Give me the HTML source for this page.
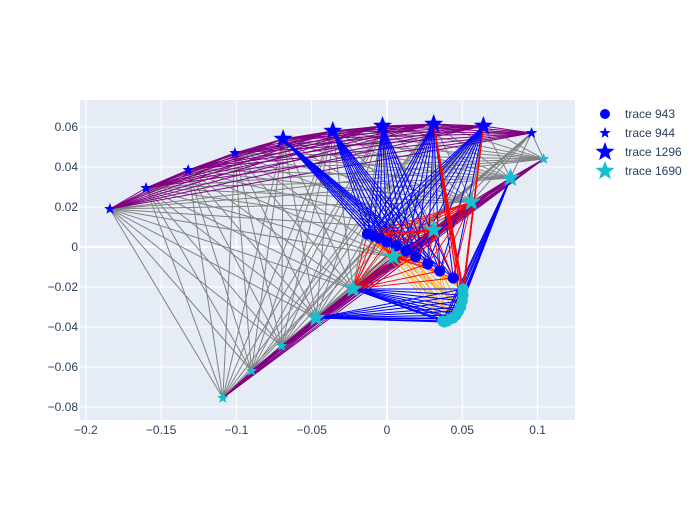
<!DOCTYPE html>
<html><head><meta charset="utf-8"><style>
body{margin:0;background:#fff;font-family:"Liberation Sans",sans-serif;}
svg text{font-family:"Liberation Sans",sans-serif;font-size:12px;fill:#2a3f5f;}
</style></head><body>
<svg id="chart" width="700" height="500" xmlns="http://www.w3.org/2000/svg">
<rect x="0" y="0" width="700" height="500" fill="#fff"/>
<rect x="80" y="100" width="495" height="320" fill="#e5ecf6"/>
<g id="grid"></g><g id="edges"></g><g id="marks"></g><g id="ticks"></g>
<g id="legend"></g>
</svg>
<script>
const xTicks=[-0.2,-0.15,-0.1,-0.05,0,0.05,0.1];
const xTickLabels=["−0.2","−0.15","−0.1","−0.05","0","0.05","0.1"];
const yTicks=[0.06,0.04,0.02,0,-0.02,-0.04,-0.06,-0.08];
const yTickLabels=["0.06","0.04","0.02","0","−0.02","−0.04","−0.06","−0.08"];
const smallBlueX=[-0.184,-0.16,-0.132,-0.101,0.096];
const smallBlueY=[0.019,0.0295,0.0385,0.047,0.057];
const bigBlueX=[-0.069,-0.036,-0.003,0.031,0.064];
const bigBlueY=[0.054,0.058,0.0605,0.0615,0.0605];
const bigCyanX=[0.082,0.056,0.031,0.004,-0.0225,-0.047];
const bigCyanY=[0.0345,0.0225,0.0085,-0.005,-0.021,-0.0355];
const smallCyanX=[0.104,-0.07,-0.09,-0.109];
const smallCyanY=[0.044,-0.0495,-0.062,-0.0755];
const blobX=[0.0505,0.0505,0.05,0.049,0.0475,0.046,0.044,0.042,0.04,0.038,0.037];
const blobY=[-0.021,-0.024,-0.027,-0.03,-0.032,-0.034,-0.0355,-0.036,-0.037,-0.0375,-0.037];
const circX=[-0.013,-0.009,-0.005,0.0,0.006,0.0125,0.019,0.027,0.035,0.044];
const circY=[0.0065,0.0055,0.0045,0.0025,0.0005,-0.002,-0.005,-0.0085,-0.012,-0.0155];

const X0=387,XS=1506,Y0=247,YS=2000;
const sx=v=>X0+v*XS, sy=v=>Y0-v*YS;
const NS="http://www.w3.org/2000/svg";
function mk(tag,attrs,parent){const e=document.createElementNS(NS,tag);for(const k in attrs)e.setAttribute(k,attrs[k]);parent.appendChild(e);return e;}
const grid=document.getElementById('grid'),ticks=document.getElementById('ticks'),edges=document.getElementById('edges'),marks=document.getElementById('marks'),legend=document.getElementById('legend');
xTicks.forEach((t,i)=>{const g=mk('line',{x1:sx(t),x2:sx(t),y1:100,y2:420,stroke:'#fff','stroke-width':t===0?2:1},grid);

const l=mk('text',{x:sx(t),y:434,'text-anchor':'middle'},ticks);l.textContent=xTickLabels[i];
});
yTicks.forEach((t,i)=>{const g=mk('line',{x1:80,x2:575,y1:sy(t),y2:sy(t),stroke:'#fff','stroke-width':t===0?2:1},grid);

const l=mk('text',{x:78,y:sy(t)+4,'text-anchor':'end'},ticks);l.textContent=yTickLabels[i];
});
const pts=(X,Y)=>X.map((x,i)=>[x,Y[i]]);
const topStars=pts(smallBlueX.slice(0,4),smallBlueY.slice(0,4)).concat(pts(bigBlueX,bigBlueY),pts(smallBlueX.slice(4),smallBlueY.slice(4)));
const cyanStars=pts(smallCyanX.slice(0,1),smallCyanY.slice(0,1)).concat(pts(bigCyanX,bigCyanY),pts(smallCyanX.slice(1),smallCyanY.slice(1)));
const circles=pts(circX,circY),blob=pts(blobX,blobY),bigBlue=pts(bigBlueX,bigBlueY),bigCyan=pts(bigCyanX,bigCyanY);
function seg(a,b,col,w,name){const l=mk('line',{x1:sx(a[0]),y1:sy(a[1]),x2:sx(b[0]),y2:sy(b[1]),stroke:col,'stroke-width':w},edges);
}
function bip(A,B,col,w,name){A.forEach(a=>B.forEach(b=>seg(a,b,col,w,name)));}
function within(A,col,w,name){for(let i=0;i<A.length;i++)for(let j=i+1;j<A.length;j++)seg(A[i],A[j],col,w,name);}
bip(topStars,cyanStars,'#808080',1,'gray-edge');
within(topStars,'#800080',1,'purple-edge');
within(cyanStars,'#800080',1,'purple-edge');
bip(circles.filter((c,i)=>i%2===0),blob.filter((b,i)=>i%3===0),'#ffa500',0.8,'orange-edge');
bip(bigBlue,circles,'#0000ff',1,'blue-edge');
bip([bigCyan[0],bigCyan[4],bigCyan[5]],blob,'#0000ff',1,'blue-edge');
bip(bigCyan.slice(1,5),circles,'#ff0000',0.9,'red-edge');
bip(bigBlue.slice(3,5),blob.slice(0,4),'#ff0000',1.2,'red-edge');
function star(cx,cy,r){const p=[];for(let k=0;k<10;k++){const rr=k%2?r*0.42:r,a=-Math.PI/2+k*Math.PI/5;p.push((cx+rr*Math.cos(a)).toFixed(1)+','+(cy+rr*Math.sin(a)).toFixed(1));}return p.join(' ');}
function drawStars(X,Y,r,col,name){X.forEach((x,i)=>{const s=mk('polygon',{points:star(sx(x),sy(Y[i]),r),fill:col},marks);
});}
blobX.forEach((x,i)=>{const c=mk('circle',{cx:sx(x),cy:sy(blobY[i]),r:5.5,fill:'#17becf'},marks);
});
circX.forEach((x,i)=>{const c=mk('circle',{cx:sx(x),cy:sy(circY[i]),r:5.5,fill:'#0000ff'},marks);
});
drawStars(smallBlueX,smallBlueY,6,'#0000ff','trace-944-star');
drawStars(bigBlueX,bigBlueY,10,'#0000ff','trace-1296-star');
drawStars(bigCyanX,bigCyanY,10,'#17becf','trace-1690-star');
drawStars(smallCyanX,smallCyanY,6,'#17becf','trace-1690-small-star');
const legNames=["trace 943","trace 944","trace 1296","trace 1690"];
legNames.forEach((n,i)=>{const y=114+i*19;
if(i===0){const c=mk('circle',{cx:605,cy:y,r:5,fill:'#0000ff'},legend);}
else{const c=mk('polygon',{points:star(605,y,i===1?6:10),fill:i===3?'#17becf':'#0000ff'},legend);}
const t=mk('text',{x:625,y:y+4},legend);t.textContent=n;
});
</script>
</body></html>
